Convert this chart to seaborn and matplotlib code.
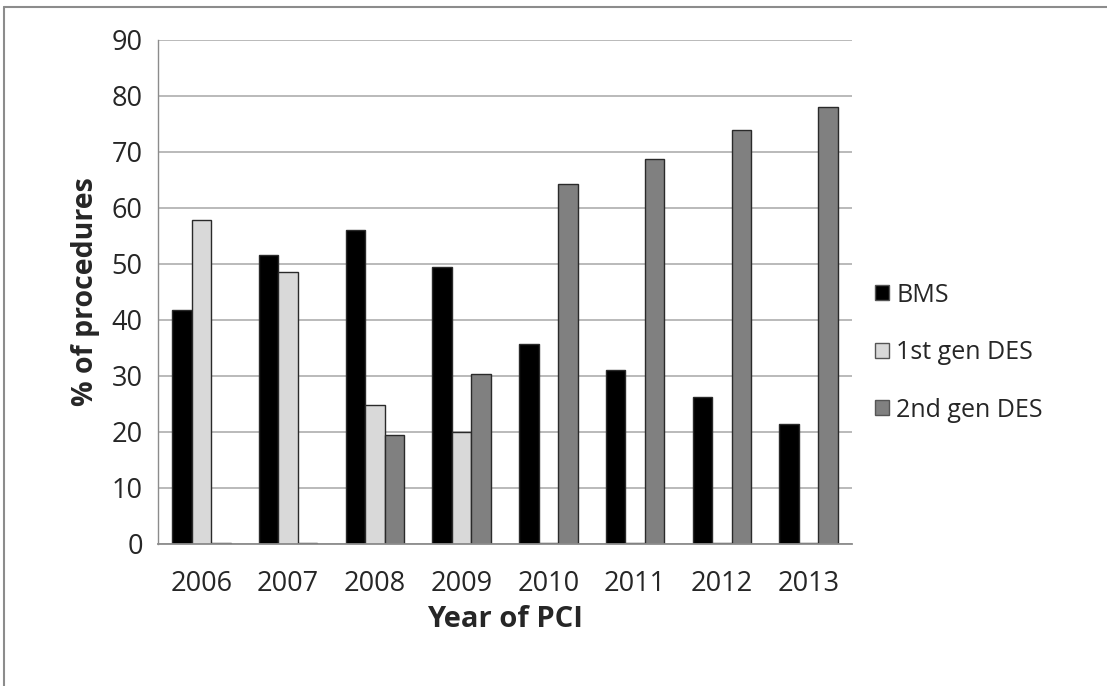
import numpy as np
import pandas as pd
import matplotlib
matplotlib.use("Agg")
import matplotlib.pyplot as plt
import matplotlib.patches as mpatches
import seaborn as sns

years = ["2006", "2007", "2008", "2009", "2010", "2011", "2012", "2013"]
bms = [41.8, 51.6, 56.0, 49.4, 35.8, 31.0, 26.2, 21.5]
des_1st = [57.8, 48.5, 24.8, 20.0, 0.2, 0.2, 0.2, 0.2]
des_2nd = [0.2, 0.2, 19.5, 30.4, 64.2, 68.8, 73.9, 78.0]
series = ["BMS", "1st gen DES", "2nd gen DES"]
colors = ["#000000", "#d9d9d9", "#808080"]

df = pd.DataFrame({
    "year": years * 3,
    "pct": bms + des_1st + des_2nd,
    "stent": [s for s in series for _ in years],
})

sns.set_style("white")
plt.rcParams["font.family"] = ["Open Sans", "DejaVu Sans"]

fig = plt.figure(figsize=(11.07, 6.86), dpi=100)
ax = fig.add_axes([0.1427, 0.207, 0.7696 - 0.1427, 0.9417 - 0.207])

sns.barplot(data=df, x="year", y="pct", hue="stent", palette=colors,
            hue_order=series, order=years, width=0.675, gap=0,
            edgecolor="#2a2a2a", linewidth=1.0, ax=ax, legend=False)

ax.set_ylim(0, 90)
ax.set_xlim(-0.5, 7.5)
ax.set_yticks(range(0, 91, 10))
ax.yaxis.grid(True, color="#b4b4b4", linewidth=1.3)
ax.set_axisbelow(True)
for side in ["top", "right"]:
    ax.spines[side].set_visible(False)
ax.spines["left"].set_color("#8c8c8c")
ax.spines["bottom"].set_color("#8c8c8c")
ax.spines["left"].set_linewidth(1.0)
ax.spines["bottom"].set_linewidth(1.3)

ax.tick_params(axis="y", length=9, color="#b4b4b4", width=1.3,
               labelsize=19.5, pad=2)
ax.tick_params(axis="x", which="major", length=0, labelsize=19.5, pad=19)
ax.set_xticks(np.arange(-0.5, 8, 1), minor=True)
ax.tick_params(axis="x", which="minor", length=11, color="#8c8c8c", width=1.0)

ax.set_xlabel("Year of PCI", fontsize=21, fontweight="bold", labelpad=5)
ax.set_ylabel("% of procedures", fontsize=20.5, fontweight="bold", labelpad=8)

handles = [mpatches.Patch(facecolor=c, edgecolor="#555555", label=s)
           for c, s in zip(colors, series)]
fig.legend(handles=handles, loc="center left", bbox_to_anchor=(0.77, 0.486),
           frameon=False, fontsize=18, handlelength=0.55, handleheight=0.55,
           handletextpad=0.3, labelspacing=1.3)

# outer frame of the figure panel
fig.add_artist(plt.Line2D([0.004, 0.004], [0.0, 0.99], color="#8c8c8c",
                          linewidth=1.5, transform=fig.transFigure))
fig.add_artist(plt.Line2D([0.004, 1.0], [0.99, 0.99], color="#8c8c8c",
                          linewidth=1.5, transform=fig.transFigure))

fig.savefig("out.png", dpi=100)
